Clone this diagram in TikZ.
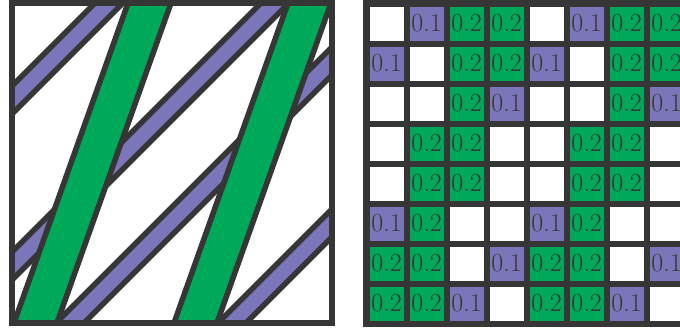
\documentclass[tikz,border=0pt]{standalone}
\definecolor{gr}{HTML}{00A859}
\definecolor{pu}{HTML}{7B76B9}
\definecolor{dk}{HTML}{363636}
\begin{document}
\begin{tikzpicture}[x=1pt,y=-1pt,
  outl/.style={draw=dk,line width=5.5pt,line join=miter},
  pband/.style={outl,fill=pu},
  gband/.style={outl,fill=gr},
  cell/.style={rectangle,inner sep=0pt,minimum width=34pt,minimum height=34pt,text=dk,font=\fontsize{26}{26}\selectfont},
  cellw/.style={cell,fill=white},
  cellp/.style={cell,fill=pu},
  cellg/.style={cell,fill=gr}]
\useasboundingbox (0,0) rectangle (680,330);
\clip (0,0) rectangle (680,330);
\fill[white] (0,0) rectangle (680,330);
% left panel
\fill[white] (12,3) rectangle (332,323);
\begin{scope}
  \clip (12,3) rectangle (332,323);
  \foreach \s in {112,278,393,555} {
    \path[pband] ({\s-14+20},-20) -- ({\s+14+20},-20) -- (-20,{\s+14+20}) -- (-20,{\s-14+20}) -- cycle;
  }
  \foreach \o in {0,160} {
    \path[gband] ({136.2+\o},-20) -- ({179.2+\o},-20) -- ({48.8+\o},346) -- ({5.8+\o},346) -- cycle;
  }
\end{scope}
\draw[outl] (12,3) rectangle (332,323);
% right panel
\fill[dk] (363,0) rectangle (700,326.5);
\def\txtw{}\def\txtp{0.1}\def\txtg{0.2}
\foreach \row [count=\j from 0] in {{w,p,g,g,w,p,g,g},{p,w,g,g,p,w,g,g},{w,w,g,p,w,w,g,p},{w,g,g,w,w,g,g,w},{w,g,g,w,w,g,g,w},{p,g,w,w,p,g,w,w},{g,g,w,p,g,g,w,p},{g,g,p,w,g,g,p,w}} {
  \foreach \t [count=\i from 0] in \row {
    \node[cell\t] (c\j\i) at ({386.5+40*\i},{23.5+40*\j}) {\csname txt\t\endcsname};
  }
}
\end{tikzpicture}
\end{document}
